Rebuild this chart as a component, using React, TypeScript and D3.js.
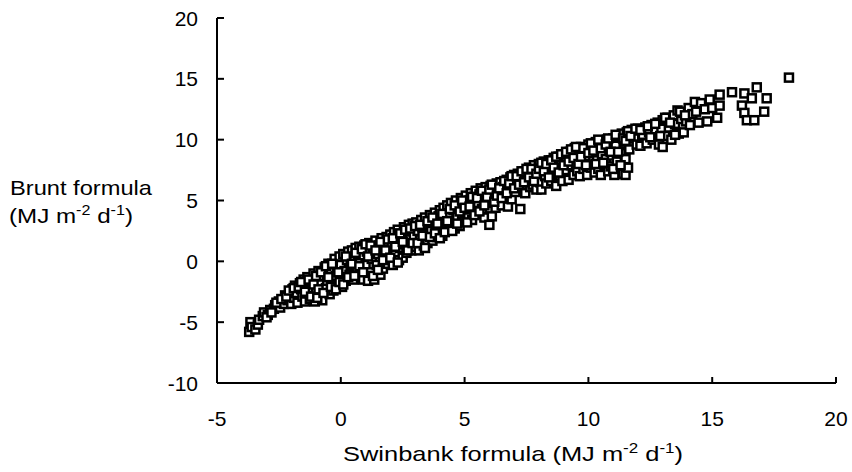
import React from "react";
import * as d3 from "d3";

const xTicks = [-5, 0, 5, 10, 15, 20];
const yTicks = [-10, -5, 0, 5, 10, 15, 20];

// Swinbank (x) vs Brunt (y), MJ m-2 d-1
const points: [number, number][] = [
  [-3.7,-5.8],[-3.65,-5.0],[-3.6,-5.4],[-3.45,-5.6],[-3.35,-5.2],[-3.3,-4.8],[-3.15,-4.5],[-3.1,-4.2],
  [-2.95,-4.4],[-2.85,-4.0],[-2.7,-3.9],[-2.65,-3.6],[-2.5,-3.3],[-2.45,-3.8],[-2.3,-3.5],[-2.25,-2.8],[-2.15,-3.2],[-2.05,-2.6],[-2.0,-3.5],[-1.95,-2.3],[-1.9,-3.0],
  [-1.85,-2.0],[-1.8,-2.6],[-1.75,-3.4],[-1.65,-1.8],[-1.6,-2.3],[-1.55,-2.9],[-1.5,-1.5],[-1.45,-3.3],[-1.4,-2.0],[-1.35,-1.3],[-1.3,-2.6],[-1.25,-3.1],[-1.2,-1.7],[-1.15,-2.2],[-1.1,-1.0],[-1.05,-3.3],[-1.0,-2.4],[-0.95,-1.4],[-0.9,-0.8],
  [-0.85,-1.9],[-0.8,-2.8],[-0.75,-3.2],[-0.7,-1.2],[-0.65,-0.5],[-0.6,-2.2],[-0.55,-1.6],[-0.5,-0.2],[-0.45,-2.7],[-0.4,-0.9],[-0.35,-1.8],[-0.3,-2.4],[-0.25,0.2],[-0.2,-1.2],[-0.15,-0.5],[-0.1,-2.0],[-0.05,0.4],[0.0,-1.3],[0.0,-0.3],
  [0.05,-2.1],[0.1,0.6],[0.15,-0.8],[0.2,-1.6],[0.25,0.1],[0.3,0.8],[0.35,-1.1],[0.4,-0.4],[0.45,0.9],[0.5,-1.5],[0.55,0.3],[0.6,1.1],[0.65,-0.7],[0.7,-0.1],[0.75,1.2],[0.8,-1.2],[0.85,0.5],[0.9,-1.5],[0.95,1.3],[1.0,-0.3],
  [1.05,0.8],[1.1,-1.6],[1.15,1.5],[1.2,-0.9],[1.25,0.2],[1.3,1.0],[1.35,-1.5],[1.4,1.7],[1.45,-0.3],[1.5,0.6],[1.55,1.3],[1.6,-1.1],[1.65,1.9],[1.7,-0.6],[1.75,0.4],[1.8,1.5],[1.85,2.0],[1.9,-0.2],[1.95,0.9],[2.0,2.2],
  [2.05,1.3],[2.1,-0.3],[2.15,2.4],[2.2,0.6],[2.25,1.7],[2.3,2.6],[2.35,0.1],[2.4,1.1],[2.45,2.0],[2.5,0.3],[2.55,2.8],[2.6,1.4],[2.65,0.7],[2.7,2.4],[2.75,3.0],[2.8,1.8],[2.85,0.9],[2.9,3.1],[2.95,2.1],[3.0,1.2],
  [3.05,3.2],[3.1,2.5],[3.15,0.9],[3.2,1.8],[3.25,3.4],[3.3,2.8],[3.35,1.3],[3.4,3.6],[3.45,2.2],[3.5,1.5],[3.55,3.0],[3.6,3.8],[3.65,2.5],[3.7,1.7],[3.75,3.4],[3.8,4.0],[3.85,2.8],[3.9,2.0],[3.95,3.7],[4.0,4.2],
  [4.05,3.1],[4.1,2.1],[4.15,4.4],[4.2,3.6],[4.25,2.6],[4.3,4.6],[4.35,3.9],[4.4,2.8],[4.45,4.8],[4.5,3.3],[4.55,4.2],[4.6,2.7],[4.65,5.0],[4.7,3.7],[4.75,4.5],[4.8,2.9],[4.85,5.2],[4.9,3.9],[4.95,4.7],[5.0,3.3],
  [5.05,5.4],[5.1,4.2],[5.15,3.6],[5.2,5.0],[5.25,5.6],[5.3,3.4],[5.35,4.5],[5.4,5.3],[5.45,5.8],[5.5,3.9],[5.55,4.8],[5.6,5.5],[5.65,6.0],[5.7,4.3],[5.75,5.2],[5.8,3.6],[5.85,6.1],[5.9,4.8],[5.95,5.6],[6.0,3.0],
  [6.05,6.2],[6.1,3.7],[6.15,5.1],[6.2,5.8],[6.25,4.4],[6.3,6.4],[6.35,4.9],[6.4,5.6],[6.45,6.5],[6.5,4.6],[6.55,6.1],[6.6,5.3],[6.7,6.7],[6.75,4.5],[6.8,5.9],[6.85,6.9],[6.9,5.1],[6.95,6.4],[7.0,7.1],
  [7.05,5.7],[7.1,6.6],[7.15,7.2],[7.25,4.3],[7.3,6.1],[7.35,7.0],[7.4,7.4],[7.45,5.6],[7.5,6.6],[7.6,7.7],[7.65,6.1],[7.7,7.2],[7.75,6.3],[7.8,7.9],[7.85,7.0],[7.9,5.9],[7.95,7.5],[8.0,8.0],
  [8.05,6.5],[8.1,5.9],[8.15,7.7],[8.2,8.2],[8.25,7.0],[8.3,6.4],[8.4,8.3],[8.45,7.4],[8.5,6.6],[8.55,8.0],[8.6,8.5],[8.7,6.2],[8.75,7.6],[8.8,8.6],[8.85,7.0],[8.9,8.2],[8.95,6.6],[9.0,8.8],
  [9.05,7.5],[9.1,8.4],[9.2,6.7],[9.25,9.0],[9.3,7.9],[9.35,8.6],[9.4,7.1],[9.45,9.3],[9.5,8.1],[9.55,7.4],[9.6,8.9],[9.65,7.0],[9.7,9.4],[9.75,8.3],[9.8,7.6],[9.85,9.1],[9.9,8.6],[9.95,7.1],[10.0,9.6],
  [10.05,8.0],[10.1,7.7],[10.15,9.2],[10.2,8.6],[10.25,7.3],[10.3,9.8],[10.35,8.3],[10.4,7.6],[10.45,9.4],[10.5,7.1],[10.55,8.8],[10.6,9.9],[10.65,7.9],[10.7,8.4],[10.75,10.0],[10.8,7.4],[10.85,9.2],[10.9,7.8],[10.95,8.7],[11.0,10.1],
  [11.05,7.1],[11.1,9.5],[11.15,8.2],[11.2,10.3],[11.25,7.6],[11.3,8.9],[11.35,10.5],[11.4,7.2],[11.45,9.7],[11.5,7.1],[11.5,8.4],[11.55,10.6],[11.6,7.7],[11.65,9.2],[11.75,10.8],[11.85,10.1],[11.95,9.6],
  [12.0,10.9],[12.1,9.5],[12.2,10.4],[12.3,11.0],[12.35,9.7],[12.45,10.6],[12.55,11.2],[12.6,10.0],[12.7,10.7],[12.8,11.4],[12.85,9.6],[12.95,10.9],[13.0,11.6],[13.0,9.4],
  [13.1,10.3],[13.2,11.8],[13.25,11.0],[13.35,10.0],[13.45,12.0],[13.5,11.3],[13.6,12.4],[13.65,10.5],[13.75,11.7],[13.8,12.2],[13.85,10.6],[13.95,11.5],[14.05,12.6],
  [14.1,11.2],[14.2,12.1],[14.3,13.1],[14.35,12.3],[14.45,11.4],[14.55,13.0],[14.7,12.5],[14.8,11.5],[14.9,13.3],[15.0,12.6],
  [15.2,11.8],[15.3,12.8],[15.3,13.7],[15.8,13.9],
  [16.2,12.8],[16.3,13.8],[16.3,12.2],[16.4,11.6],[16.6,13.4],[16.7,11.6],[16.8,14.3],[17.1,12.3],[17.2,13.4],[18.1,15.1],
  [-3.0,-4.6],[-2.8,-4.2],[-2.6,-3.4],[-2.4,-3.1],[-2.2,-2.9],[-2.1,-2.4],
  [-1.9,-2.2],[-1.7,-2.1],[-1.6,-1.7],[-1.45,-2.5],[-1.3,-1.5],[-1.2,-2.9],[-1.1,-1.9],[-1.0,-1.2],[-0.95,-3.0],
  [-0.9,-2.3],[-0.8,-0.9],[-0.7,-2.6],[-0.6,-0.4],[-0.5,-1.3],[-0.4,-2.1],[-0.35,-0.2],[-0.2,-2.3],[-0.1,-0.9],[-0.05,-1.7],
  [0.1,-1.9],[0.2,0.4],[0.3,-1.3],[0.45,-0.2],[0.55,-1.2],[0.6,0.7],[0.75,-0.4],[0.85,1.0],[0.9,-0.9],[1.0,1.4],
  [1.1,0.4],[1.2,1.3],[1.3,-1.2],[1.4,0.9],[1.5,-0.7],[1.6,1.6],[1.7,0.1],[1.8,0.9],[1.9,1.8],[2.0,0.3],
  [2.1,1.9],[2.2,1.2],[2.3,-0.1],[2.4,2.3],[2.5,1.6],[2.6,2.6],[2.7,0.9],[2.8,2.7],[2.9,1.5],[3.0,2.9],
  [3.1,1.5],[3.2,3.0],[3.3,2.1],[3.4,1.1],[3.5,3.3],[3.6,2.0],[3.7,3.6],[3.8,2.3],[3.9,3.1],[4.0,1.9],
  [4.1,3.9],[4.2,2.4],[4.3,3.3],[4.4,4.3],[4.5,2.5],[4.6,4.6],[4.7,3.1],[4.8,4.1],[4.9,5.0],[5.0,4.4],
  [5.1,3.2],[5.2,4.5],[5.3,5.3],[5.4,3.8],[5.5,5.2],[5.6,4.1],[5.7,5.8],[5.8,4.6],[5.9,5.3],[6.0,5.9],
  [6.1,6.3],[6.2,4.9],[6.3,5.4],[6.4,6.0],[6.5,5.2],[6.6,6.6],[6.7,5.6],[6.8,6.4],[6.9,7.0],[7.0,6.0],
  [7.1,7.0],[7.2,6.3],[7.3,7.4],[7.4,6.5],[7.5,7.6],[7.6,6.9],[7.7,7.6],[7.8,6.6],[7.9,7.2],[8.0,7.6],
  [8.1,8.1],[8.2,7.4],[8.3,8.0],[8.4,6.9],[8.5,8.3],[8.6,7.7],[8.7,8.6],[8.8,7.3],[8.9,8.8],[9.0,7.9],
  [9.1,9.0],[9.2,8.2],[9.3,9.2],[9.4,8.5],[9.5,9.4],[9.6,8.0],[9.7,8.6],[9.8,9.3],[9.9,7.9],[10.0,8.9],
  [10.1,9.7],[10.2,9.1],[10.3,8.0],[10.4,10.0],[10.5,9.3],[10.6,8.1],[10.7,9.6],[10.8,10.1],[10.9,9.0],[11.0,7.6],
  [11.1,10.4],[11.2,9.0],[11.3,7.9],[11.4,10.1],[11.5,9.9],[11.6,10.7],[11.7,10.3],[11.9,10.9],
  [12.1,10.8],[12.4,11.1],[12.5,10.2],[12.7,11.3],[12.9,10.3],[13.1,11.8],[13.3,11.4],[13.5,10.4],[13.7,12.3],[13.9,12.0],
];

const FONT = "'Liberation Sans', Arial, Helvetica, sans-serif";

export default function App() {
  const W = 852, H = 472;
  const x = d3.scaleLinear().domain([-5, 20]).range([217, 836]);
  const y = d3.scaleLinear().domain([-10, 20]).range([383, 18]);
  const s = 8;
  const fs = 21;
  const tfs = 21;
  const sup = 14;

  return (
    <svg width={W} height={H} style={{ position: "absolute", left: 0, top: 0, background: "#fff" }}
      fontFamily={FONT}>
      {/* points */}
      <g>
        {points.map(([a, b], i) => (
          <rect key={i} x={x(a) - s / 2} y={y(b) - s / 2} width={s} height={s}
            fill="#fff" stroke="#000" strokeWidth={2.5} />
        ))}
      </g>
      {/* axes */}
      <line x1={x(-5)} x2={x(20)} y1={y(-10)} y2={y(-10)} stroke="#000" strokeWidth={2} />
      <line x1={x(-5)} x2={x(-5)} y1={y(-10)} y2={y(20)} stroke="#000" strokeWidth={2} />
      {yTicks.map((t) => (
        <g key={"y" + t}>
          <line x1={x(-5)} x2={x(-5) + 7} y1={y(t)} y2={y(t)} stroke="#000" strokeWidth={2} />
          <text x={198} y={y(t)} dy="0.36em" textAnchor="end" fontSize={fs} fill="#000">{t}</text>
        </g>
      ))}
      {xTicks.map((t) => (
        <g key={"x" + t}>
          <line x1={x(t)} x2={x(t)} y1={y(-10)} y2={y(-10) - 6} stroke="#000" strokeWidth={2} />
          <text x={x(t)} y={426} textAnchor="middle" fontSize={fs} fill="#000">{t}</text>
        </g>
      ))}
      {/* axis titles */}
      <text x={343} y={461} fontSize={tfs} fill="#000" textLength={340} lengthAdjust="spacingAndGlyphs">
        Swinbank formula (MJ m<tspan fontSize={sup} dy={-8}>-2</tspan>
        <tspan dy={8}> d</tspan><tspan fontSize={sup} dy={-8}>-1</tspan><tspan dy={8}>)</tspan>
      </text>
      <text x={10} y={195} fontSize={tfs} fill="#000" textLength={142} lengthAdjust="spacingAndGlyphs">Brunt formula</text>
      <text x={9} y={223} fontSize={tfs} fill="#000" textLength={124} lengthAdjust="spacingAndGlyphs">
        (MJ m<tspan fontSize={sup} dy={-8}>-2</tspan>
        <tspan dy={8}> d</tspan><tspan fontSize={sup} dy={-8}>-1</tspan><tspan dy={8}>)</tspan>
      </text>
    </svg>
  );
}
